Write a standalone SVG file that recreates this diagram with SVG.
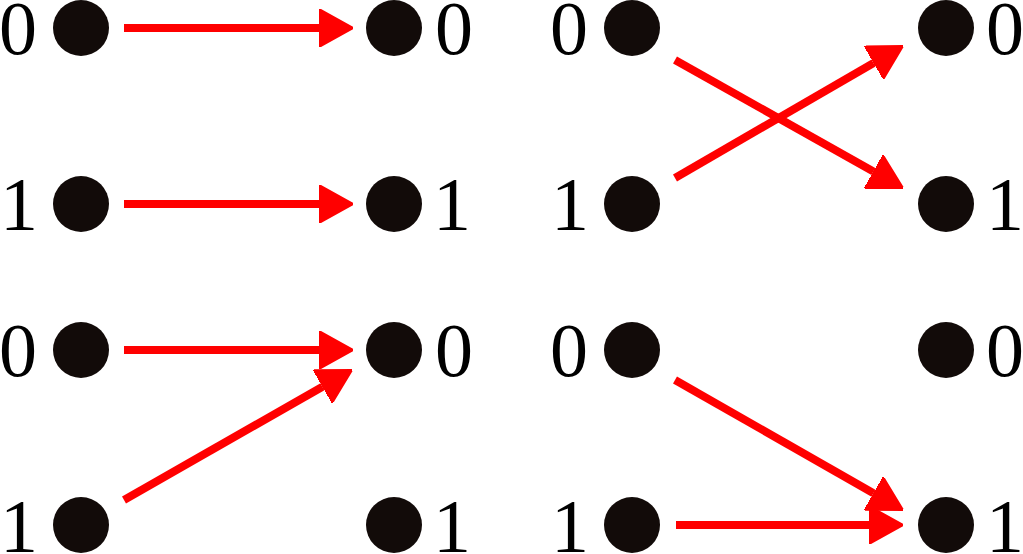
<svg xmlns="http://www.w3.org/2000/svg" width="1023" height="554" viewBox="0 0 1023 554">
<style>
.dot{fill:#120b09}
.lbl{font-family:"Liberation Serif","Times New Roman",serif;font-size:76px;fill:#000}
.arr{stroke:#ff0000;stroke-width:8;fill:none;marker-end:url(#ah)}
</style>
<defs>
<marker id="ah" viewBox="0 0 34 38" refX="0" refY="19" markerWidth="34" markerHeight="38" markerUnits="userSpaceOnUse" orient="auto">
<path d="M0,0 L34,19 L0,38 z" fill="#ff0000" stroke="#ff0000" stroke-width="2" stroke-linejoin="round"/>
</marker>
</defs>
<rect width="1023" height="554" fill="#fff"/>
<g id="nodes">
<g id="a-l0"><circle class="dot" cx="81" cy="28" r="28"/><text class="lbl" x="-1" y="54">0</text></g>
<g id="a-r0"><circle class="dot" cx="394" cy="28" r="28"/><text class="lbl" x="435" y="54">0</text></g>
<g id="a-l1"><circle class="dot" cx="81" cy="204" r="28"/><text class="lbl" x="0" y="230">1</text></g>
<g id="a-r1"><circle class="dot" cx="394" cy="204" r="28"/><text class="lbl" x="433" y="230">1</text></g>
<g id="b-l0"><circle class="dot" cx="632" cy="28" r="28"/><text class="lbl" x="550" y="54">0</text></g>
<g id="b-r0"><circle class="dot" cx="946" cy="28" r="28"/><text class="lbl" x="986" y="54">0</text></g>
<g id="b-l1"><circle class="dot" cx="632" cy="204" r="28"/><text class="lbl" x="551" y="230">1</text></g>
<g id="b-r1"><circle class="dot" cx="946" cy="204" r="28"/><text class="lbl" x="986" y="230">1</text></g>
<g id="c-l0"><circle class="dot" cx="81" cy="350" r="28"/><text class="lbl" x="-1" y="376">0</text></g>
<g id="c-r0"><circle class="dot" cx="394" cy="350" r="28"/><text class="lbl" x="435" y="376">0</text></g>
<g id="c-l1"><circle class="dot" cx="81" cy="525" r="28"/><text class="lbl" x="0" y="552">1</text></g>
<g id="c-r1"><circle class="dot" cx="394" cy="525" r="28"/><text class="lbl" x="433" y="552">1</text></g>
<g id="d-l0"><circle class="dot" cx="632" cy="350" r="28"/><text class="lbl" x="550" y="376">0</text></g>
<g id="d-r0"><circle class="dot" cx="946" cy="350" r="28"/><text class="lbl" x="986" y="376">0</text></g>
<g id="d-l1"><circle class="dot" cx="632" cy="525" r="28"/><text class="lbl" x="551" y="552">1</text></g>
<g id="d-r1"><circle class="dot" cx="946" cy="525" r="28"/><text class="lbl" x="986" y="552">1</text></g>
</g>
<g id="connectors">
<line class="arr" x1="124" y1="28" x2="319" y2="28"/>
<line class="arr" x1="124" y1="204" x2="319" y2="204"/>
<line class="arr" x1="675" y1="60" x2="873.4" y2="171.4"/>
<line class="arr" x1="675" y1="178" x2="873.6" y2="63"/>
<line class="arr" x1="124" y1="350" x2="319" y2="350"/>
<line class="arr" x1="124" y1="500" x2="322.5" y2="386.8"/>
<line class="arr" x1="675" y1="380" x2="873.5" y2="493.2"/>
<line class="arr" x1="676" y1="525" x2="869" y2="525"/>
</g>
</svg>
